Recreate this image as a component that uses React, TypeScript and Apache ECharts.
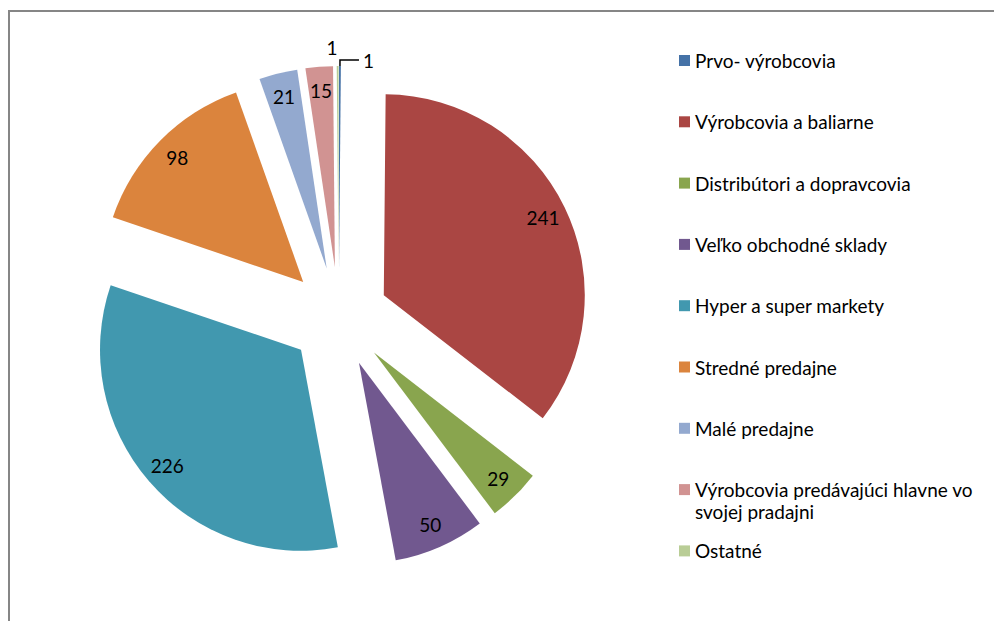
import React, { useEffect, useRef } from "react";
import * as echarts from "echarts";

const categories = [
  "Prvo- výrobcovia",
  "Výrobcovia a baliarne",
  "Distribútori a dopravcovia",
  "Veľko obchodné sklady",
  "Hyper a super markety",
  "Stredné predajne",
  "Malé predajne",
  "Výrobcovia predávajúci hlavne vo svojej pradajni",
  "Ostatné",
];
const values = [1, 241, 29, 50, 226, 98, 21, 15, 1];
const colors = [
  "#4572A7",
  "#AA4643",
  "#89A54E",
  "#71588F",
  "#4198AF",
  "#DB843D",
  "#93A9CF",
  "#D19392",
  "#B9CD96",
];
const wrappedName = "Výrobcovia predávajúci hlavne vo svojej pradajni";
const wrappedFirst = "Výrobcovia predávajúci hlavne vo";
const wrappedSecond = "svojej pradajni";

const FONT = "Lato";
const FS = 19;

export default function App() {
  const ref = useRef<HTMLDivElement>(null);
  useEffect(() => {
    if (!ref.current) return;
    const chart = echarts.init(ref.current, undefined, { renderer: "svg" });
    const center = [338.8, 317];
    const R = 201;
    const mainData = categories.map((name, i) => ({
      name,
      value: values[i],
      selected: true,
      itemStyle: { color: colors[i] },
    }));
    const labelData = categories.map((name, i) => {
      const base: any = {
        name,
        value: values[i],
        selected: true,
        itemStyle: { color: "rgba(0,0,0,0)" },
      };
      if (i === 0) {
        base.label = { show: true, position: "outside", distanceToLabelLine: 4, padding: [0, 0, 10, 0] };
        base.labelLine = { show: true, length: 6, length2: 19, lineStyle: { color: "#000", width: 1.5 } };
      } else if (i === categories.length - 1) {
        base.label = { show: true, position: "outside", distanceToLabelLine: 0 };
        base.labelLine = { show: false, length: 19, length2: 0 };
      }
      return base;
    });
    chart.setOption({
      animation: false,
      color: colors,
      graphic: [
        { type: "line", shape: { x1: 9, y1: 11, x2: 994, y2: 11 }, style: { stroke: "#868686", lineWidth: 2 } },
        { type: "line", shape: { x1: 9, y1: 10, x2: 9, y2: 621 }, style: { stroke: "#868686", lineWidth: 2 } },
        {
          type: "text",
          left: 695,
          top: 502,
          style: { text: wrappedSecond, fill: "#000", font: `${FS}px ${FONT}` },
        },
      ],
      legend: {
        orient: "vertical",
        left: 679,
        top: 49.5,
        padding: 0,
        itemWidth: 11,
        itemHeight: 11,
        itemGap: 39.3,
        icon: "rect",
        selectedMode: false,
        data: categories,
        formatter: (name: string) => (name === wrappedName ? wrappedFirst : name),
        textStyle: { fontFamily: FONT, fontSize: FS, color: "#000", lineHeight: 22 },
      },
      series: [
        {
          type: "pie",
          name: "main",
          center,
          radius: [0, R],
          startAngle: 90,
          clockwise: true,
          selectedMode: "multiple",
          selectedOffset: 50,
          avoidLabelOverlap: false,
          label: { show: false },
          labelLine: { show: false },
          emphasis: { disabled: true },
          itemStyle: { borderWidth: 0 },
          data: mainData,
        },
        {
          type: "pie",
          name: "labels",
          center,
          radius: [147, R],
          startAngle: 90,
          clockwise: true,
          selectedMode: "multiple",
          selectedOffset: 50,
          avoidLabelOverlap: false,
          silent: true,
          emphasis: { disabled: true },
          label: {
            show: true,
            position: "inside",
            formatter: "{c}",
            color: "#000",
            fontFamily: FONT,
            fontSize: FS,
          },
          labelLine: { show: false },
          itemStyle: { borderWidth: 0 },
          data: labelData,
        },
      ],
    });
    return () => chart.dispose();
  }, []);
  return (
    <div
      ref={ref}
      style={{ position: "absolute", left: 0, top: 0, width: 994, height: 621, background: "#fff" }}
    />
  );
}
